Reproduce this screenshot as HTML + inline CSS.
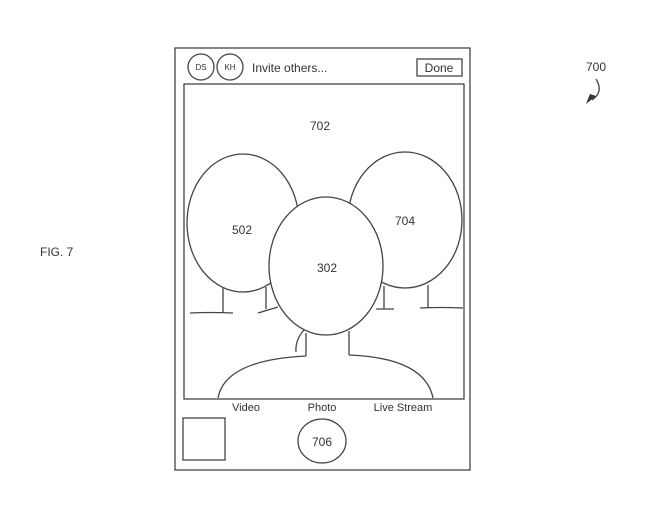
<!DOCTYPE html>
<html><head><style>
body{margin:0;background:#fff;}
svg{display:block;}
text{font-family:"Liberation Sans",sans-serif;fill:#333;}
</style></head><body>
<svg width="649" height="510" viewBox="0 0 649 510" xmlns="http://www.w3.org/2000/svg">
<g fill="none" stroke="#444" stroke-width="1.3">
<rect x="175" y="48" width="295" height="422"/>
<rect x="184" y="84" width="280" height="315"/>
<circle cx="201" cy="67" r="13"/>
<circle cx="230" cy="67" r="13"/>
<rect x="417" y="59" width="45" height="17"/>
<ellipse cx="243" cy="223" rx="56" ry="69" fill="#fff"/>
<ellipse cx="405" cy="220" rx="57" ry="68" fill="#fff"/>
<path d="M223 288V313M190 313Q210 312 233 313M266 287V309M258 313L278 307"/>
<path d="M384 286V309M376 309H394M428 285V308M420 308Q440 307 463 308"/>
<ellipse cx="326" cy="266" rx="57" ry="69" fill="#fff"/>
<path d="M306 333V356M349 331V355M304 330Q295 340 296 352"/>
<path d="M218 398Q225 360 306 356M349 355Q425 358 433 398"/>
<rect x="183" y="418" width="42" height="42"/>
<ellipse cx="322" cy="441" rx="24" ry="22"/>
<path d="M596 79Q604 92 592 100"/>
</g>
<path d="M586 104L596 96L590 94Z" fill="#333"/>
<g font-size="8" text-anchor="middle"><text x="201" y="70">DS</text><text x="230" y="70">KH</text></g>
<text x="252" y="72" font-size="12">Invite others...</text>
<text x="439" y="72" font-size="12" text-anchor="middle">Done</text>
<g font-size="12" text-anchor="middle">
<text x="320" y="130">702</text>
<text x="242" y="234">502</text>
<text x="405" y="225">704</text>
<text x="327" y="272">302</text>
<text x="322" y="446">706</text>
<text x="596" y="71">700</text>
</g>
<g font-size="11" text-anchor="middle">
<text x="246" y="411">Video</text>
<text x="322" y="411">Photo</text>
<text x="403" y="411">Live Stream</text>
</g>
<text x="40" y="256" font-size="12">FIG. 7</text>
</svg>
</body></html>
